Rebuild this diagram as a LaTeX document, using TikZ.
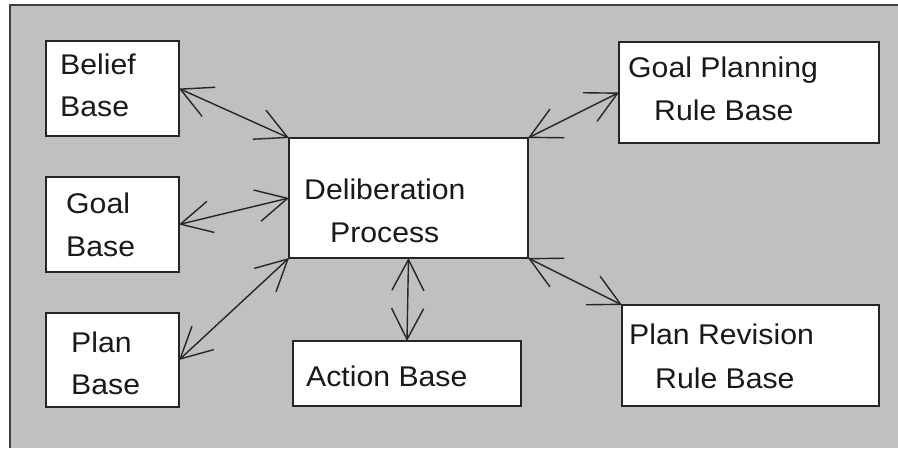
\documentclass[tikz,border=0pt]{standalone}
\usepackage{fontspec}
\setmainfont[FakeStretch=1.06]{Liberation Sans}
\usetikzlibrary{arrows.meta}
\definecolor{bggray}{RGB}{192,192,192}
\definecolor{edgegray}{RGB}{64,64,64}
\begin{document}
\begin{tikzpicture}[x=1pt,y=-1pt,
  box/.style={draw=black!85,fill=white,line width=1.3pt,inner sep=0pt,outer sep=0pt,anchor=north west},
  txt/.style={anchor=base west,inner sep=0pt,font=\fontsize{28.5}{34}\selectfont,text=black!90},
  arr/.style={{Straight Barb[length=31pt,width=32pt]}-{Straight Barb[length=31pt,width=32pt]},line width=1.4pt,draw=black!85}]
\useasboundingbox (0,0) rectangle (898,448);
\fill[white] (0,0) rectangle (898,448);
\fill[bggray] (10,5) rectangle (898,448);
\draw[edgegray,line width=1.4pt] (10,448) -- (10,5) -- (898,5);
% boxes
\node[box,minimum width=133pt,minimum height=95pt] (belief) at (46,41) {};
\node[box,minimum width=133pt,minimum height=95pt] (goal) at (46,177) {};
\node[box,minimum width=133pt,minimum height=94pt] (plan) at (46,313) {};
\node[box,minimum width=239pt,minimum height=120pt] (delib) at (289,138) {};
\node[box,minimum width=228pt,minimum height=65pt] (action) at (293,341) {};
\node[box,minimum width=260pt,minimum height=101pt] (gp) at (619,42) {};
\node[box,minimum width=257pt,minimum height=101pt] (pr) at (622,305) {};
% texts
\node[txt] (t1) at (60,74) {Belief};
\node[txt] (t2) at (60,116) {Base};
\node[txt] (t3) at (66,213) {Goal};
\node[txt] (t4) at (66,256) {Base};
\node[txt] (t5) at (71,352) {Plan};
\node[txt] (t6) at (71,394) {Base};
\node[txt] (t7) at (304,199) {Deliberation};
\node[txt] (t8) at (330,242) {Process};
\node[txt] (t9) at (306,386) {Action Base};
\node[txt] (t10) at (628,77) {Goal Planning};
\node[txt] (t11) at (654,120) {Rule Base};
\node[txt] (t12) at (629,344) {Plan Revision};
\node[txt] (t13) at (655,388) {Rule Base};
% arrows
\draw[arr] (belief.east) -- (delib.north west);
\draw[arr] (goal.east) -- (delib.west);
\draw[arr] (plan.east) -- (delib.south west);
\draw[arr] (delib.south) -- (action.north);
\draw[arr] (delib.north east) -- (gp.west);
\draw[arr] (delib.south east) -- (pr.north west);
\end{tikzpicture}
\end{document}
